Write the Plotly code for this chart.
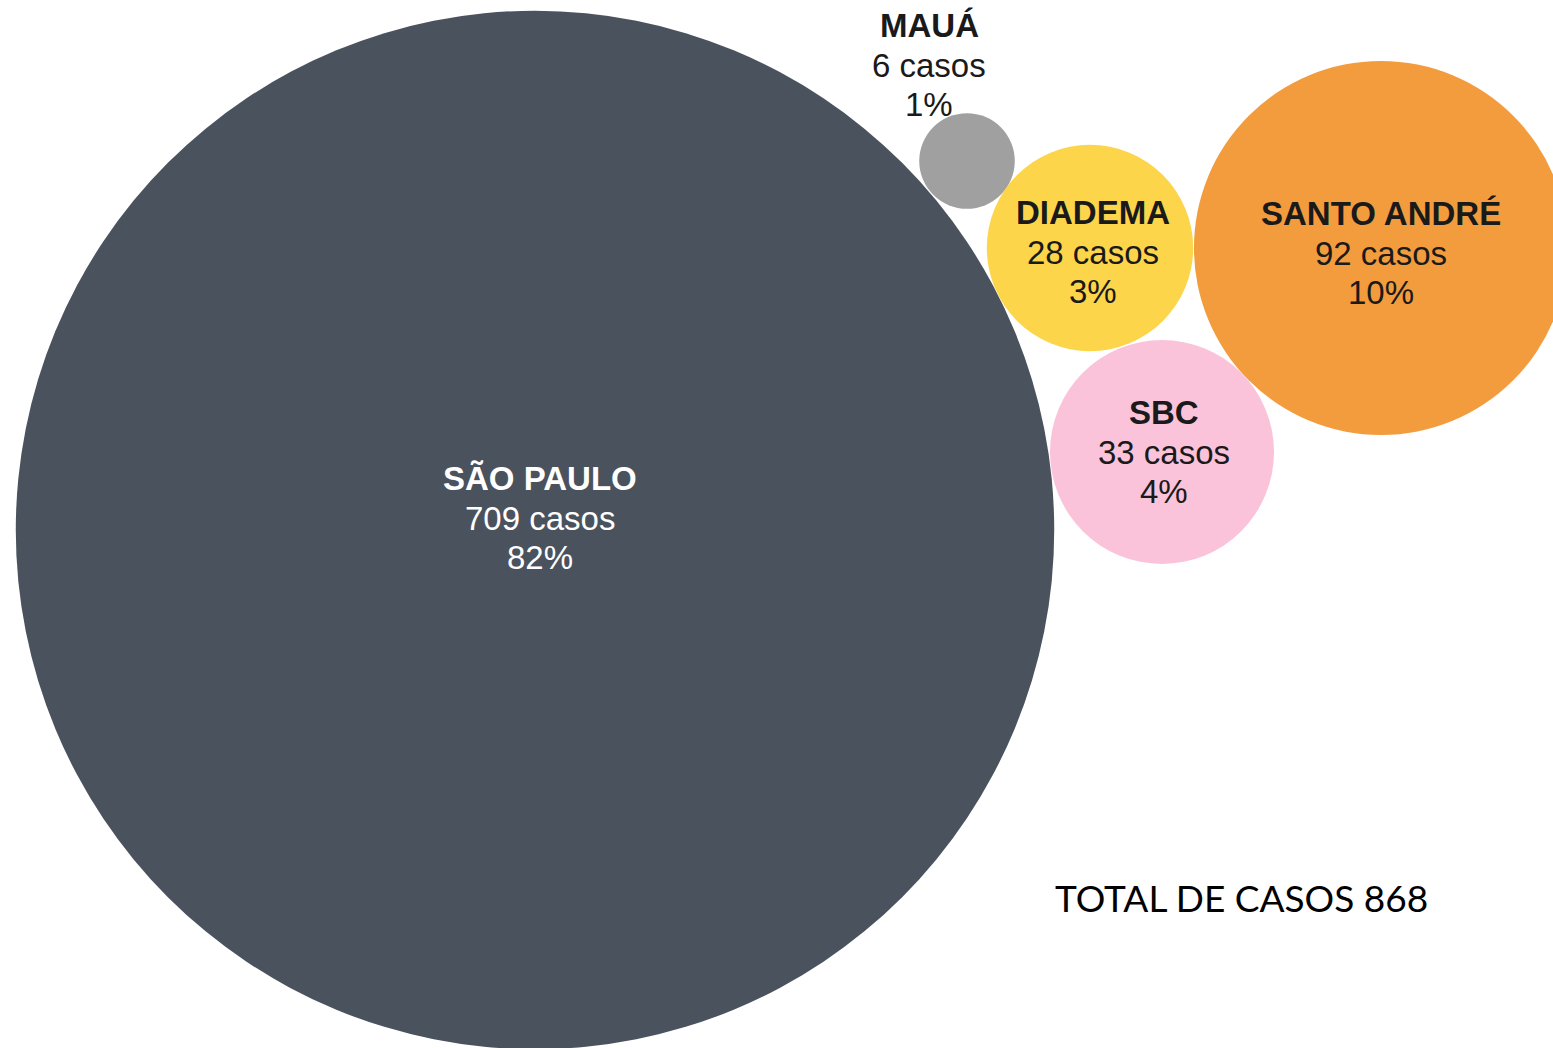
import plotly.graph_objects as go
import math

# ---- data ----
cities = ["SÃO PAULO", "MAUÁ", "DIADEMA", "SANTO ANDRÉ", "SBC"]
cases = [709, 6, 28, 92, 33]
percents = [82, 1, 3, 10, 4]
total_cases = 868

# ---- layout (bubble-pack positions, in pixel-like data units) ----
cx = [535, 967, 1090, 1381, 1162]
cy = [530, 161, 248, 248, 452]
label_dx = [5, -38, 3, 0, 2]
label_dy = [-12, -96, 4, 5, 0]
colors = ["#4a525e", "#a0a0a0", "#fdd54a", "#f39c3e", "#fbc3da"]
text_colors = ["#ffffff", "#1a1a1a", "#1a1a1a", "#1a1a1a", "#1a1a1a"]

W, H = 1553, 1048
K = 19.5  # radius scale: r = K * sqrt(value)
LINE = 39.5
FS = 33

fig = go.Figure()
fig.add_trace(go.Scatter(
    x=cx, y=cy, mode="markers",
    marker=dict(size=[2 * K * math.sqrt(v) for v in cases], sizemode="diameter",
                color=colors, line=dict(width=0), opacity=1),
    hoverinfo="skip", cliponaxis=False,
))

FONT = "Arial"
for name, v, p, x, y, dx, dy, tc in zip(cities, cases, percents, cx, cy,
                                        label_dx, label_dy, text_colors):
    lines = [f"<b>{name}</b>", f"{v} casos", f"{p}%"]
    for i, t in enumerate(lines):
        fig.add_annotation(x=x + dx, y=y + dy + (i - 1) * LINE, text=t, showarrow=False,
                           xanchor="center", yanchor="middle",
                           font=dict(family=FONT, size=FS, color=tc))

fig.add_annotation(x=1241, y=897, text=f"TOTAL DE CASOS {total_cases}", showarrow=False,
                   xanchor="center", yanchor="middle",
                   font=dict(family="Lato, Open Sans, sans-serif", size=37, color="#000000"))

fig.update_layout(
    width=W, height=H, margin=dict(l=0, r=0, t=0, b=0),
    paper_bgcolor="white", plot_bgcolor="white", showlegend=False,
    xaxis=dict(range=[0, W], visible=False, fixedrange=True),
    yaxis=dict(range=[H, 0], visible=False, fixedrange=True),
)

fig.write_html("out.html", config={"displayModeBar": False},
               post_script="document.body.style.margin='0';document.body.style.overflow='hidden';")
